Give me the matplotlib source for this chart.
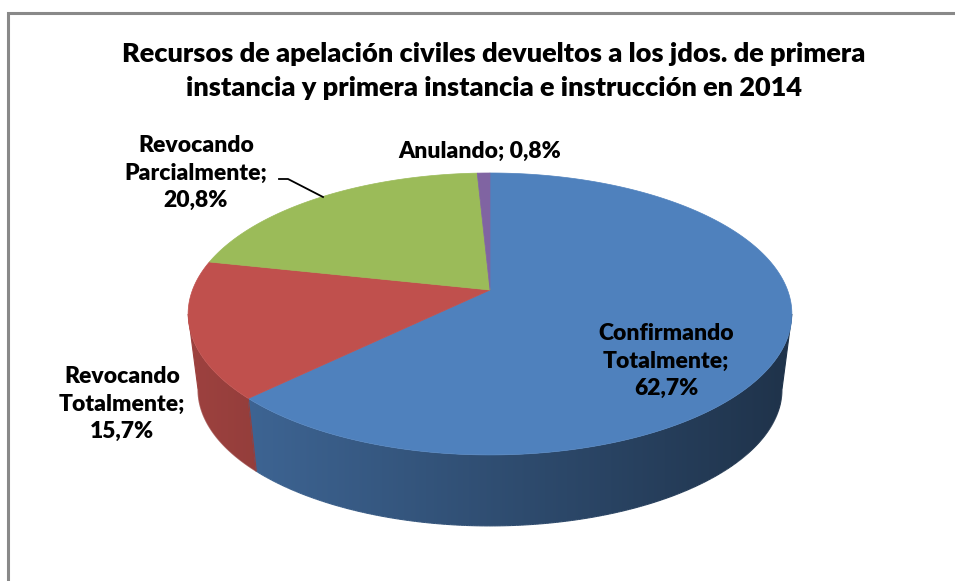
"""3D-style pie of appeal outcomes returned to first-instance courts, 2014."""

import matplotlib

matplotlib.use("Agg")
import matplotlib.pyplot as plt  # noqa: E402
import numpy as np  # noqa: E402
from matplotlib.colors import to_rgb  # noqa: E402
from matplotlib.patches import Polygon  # noqa: E402
from matplotlib.collections import LineCollection  # noqa: E402

# data (Excel order: first slice starts at 12 o'clock, clockwise)
categories = ["Confirmando Totalmente", "Revocando Totalmente",
              "Revocando Parcialmente", "Anulando"]
shares = [62.7, 15.7, 20.8, 0.8]
colors = ["#4F81BD", "#C0504D", "#9BBB59", "#8064A2"]
title = ("Recursos de apelación civiles devueltos a los jdos. de primera\n"
         "instancia y primera instancia e instrucción en 2014")

W, H = 955, 581
plt.rcParams["font.family"] = ["Lato", "DejaVu Sans"]

fig = plt.figure(figsize=(W / 100, H / 100), dpi=100)
ax = fig.add_axes([0, 0, 1, 1])
ax.axis("off")

# pie geometry in pixels (perspective squash of a unit circle)
cx, cy = 490.0, 290.0
sx, sy, k = 297.5, 136.9, 0.17
shrink, cy_bot = 0.967, 366.4


def top_pt(phi):
    X, Y = np.sin(phi), np.cos(phi)
    d = 1 + k * Y
    return cx + sx * X / d, cy - sy * Y / d


def bot_pt(phi):
    X, Y = np.sin(phi), np.cos(phi)
    d = 1 + k * Y
    return cx + shrink * sx * X / d, cy_bot - shrink * sy * Y / d


def shade(x):
    # side walls get darker from left to right
    return np.clip(0.82 - 0.43 * (x - 188) / 604, 0, 1)


fr = np.array(shares) / sum(shares)
edges = np.concatenate([[0], np.cumsum(fr)]) * 2 * np.pi
xgrid = np.linspace(0, W, W + 1)

# visible part of the outer wall lies between the two silhouette angles
vis_lo = np.arccos(-k)
vis_hi = 2 * np.pi - vis_lo

for i, c in enumerate(colors):
    a, b = max(edges[i], vis_lo), min(edges[i + 1], vis_hi)
    if b <= a:
        continue
    base = np.array(to_rgb(c))
    ph = np.linspace(a, b, 300)
    tx, ty = top_pt(ph)
    bx, by = bot_pt(ph)
    wall = Polygon(np.column_stack([np.r_[tx, bx[::-1]], np.r_[ty, by[::-1]]]),
                   closed=True, fc="none", ec="none", transform=ax.transData)
    ax.add_patch(wall)
    grad = shade(xgrid)[:, None] * base[None, :]
    im = ax.imshow(grad[None, :, :], extent=[0, W, H, 0], aspect="auto",
                   interpolation="bilinear", zorder=1)
    im.set_clip_path(wall)
    # antialiased outline of the wall
    ox = np.r_[tx[-1], bx[::-1], tx[0]]
    oy = np.r_[ty[-1], by[::-1], ty[0]]
    segs = np.stack([np.column_stack([ox[:-1], oy[:-1]]),
                     np.column_stack([ox[1:], oy[1:]])], axis=1)
    segc = shade(0.5 * (ox[:-1] + ox[1:]))[:, None] * base[None, :]
    ax.add_collection(LineCollection(segs, colors=segc, lw=0.8, zorder=1.1))

# top faces
for i, c in enumerate(colors):
    ph = np.linspace(edges[i], edges[i + 1], 200)
    xs, ys = top_pt(ph)
    pts = np.column_stack([np.r_[cx, xs], np.r_[cy, ys]])
    ax.add_patch(Polygon(pts, closed=True, fc=c, ec=c, lw=0.5, zorder=2))

ax.set_xlim(0, W)
ax.set_ylim(H, 0)

# data labels
lab_kw = dict(ha="center", va="center", fontsize=16.5, fontweight="heavy",
              linespacing=1.38, color="black", zorder=3)


def pct(v):
    return f"{v:.1f}%".replace(".", ",")


ax.text(666, 361, f"Confirmando\nTotalmente;\n{pct(shares[0])}", **lab_kw)
ax.text(122, 404, f"Revocando\nTotalmente;\n{pct(shares[1])}", **lab_kw)
ax.text(196, 173, f"Revocando\nParcialmente;\n{pct(shares[2])}", **lab_kw)
ax.text(480, 151, f"Anulando; {pct(shares[3])}", **lab_kw)
ax.plot([279, 288, 323], [179, 179, 197], color="black", lw=1.3, zorder=3)

ax.text(494, 71, title, ha="center", va="center", fontsize=19.5,
        fontweight="heavy", linespacing=1.45, zorder=3)

# chart frame
ax.plot([8, 8, W + 5], [H + 5, 13, 13], color="#898989", lw=2.2,
        solid_joinstyle="miter", zorder=3)

fig.savefig("out.png", dpi=100)
